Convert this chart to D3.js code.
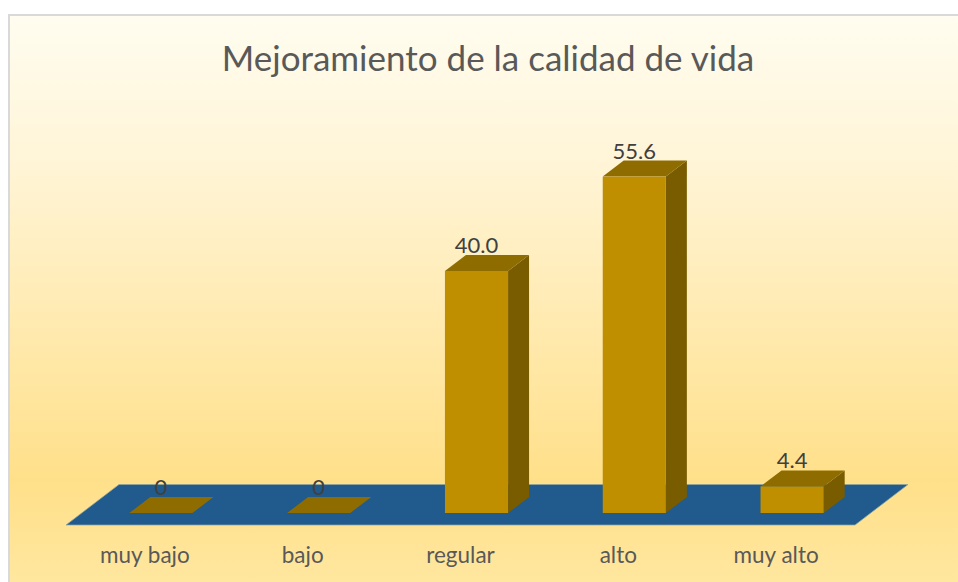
<!DOCTYPE html>
<html>
<head>
<meta charset="utf-8">
<script src="https://cdn.jsdelivr.net/npm/d3@7"></script>
<style>
html, body { margin: 0; padding: 0; background: #fff; overflow: hidden; }
svg { display: block; }
</style>
</head>
<body>
<div id="chart"></div>
<script>
var categories = ['muy bajo', 'bajo', 'regular', 'alto', 'muy alto'];
var values = [0, 0, 40.0, 55.6, 4.4];
var valueLabels = ['0', '0', '40.0', '55.6', '4.4'];
var chartTitle = 'Mejoramiento de la calidad de vida';

var width = 958;
var height = 582;

// floor of the 3d plot
var floorFront = 525;
var floorBack = 484.5;
var floorLeft = 66;
var floorRight = 855;
var floorSkew = 53;

// depth of a bar, and how far it sits behind the front of the floor
var barDepthX = 21;
var barDepthY = 16;
var barShiftX = 16;
var barBase = 513;

var x = d3.scaleBand()
    .domain(categories)
    .range([floorLeft, floorRight])
    .paddingInner(0.6)
    .paddingOuter(0.3);

var y = d3.scaleLinear()
    .domain([0, 40])
    .range([barBase, 271]);

var svg = d3.select('#chart').append('svg')
    .attr('width', width)
    .attr('height', height);

var grad = svg.append('defs').append('linearGradient')
    .attr('id', 'bg')
    .attr('gradientUnits', 'userSpaceOnUse')
    .attr('x1', 0).attr('y1', 15).attr('x2', 0).attr('y2', height);
grad.append('stop').attr('offset', '0%').attr('stop-color', '#fffdf0');
grad.append('stop').attr('offset', '25%').attr('stop-color', '#fff5d8');
grad.append('stop').attr('offset', '82%').attr('stop-color', '#ffe08a');
grad.append('stop').attr('offset', '100%').attr('stop-color', '#ffe79f');

// background and frame (the right and bottom sides run off the picture)
svg.append('rect')
    .attr('x', 9).attr('y', 15)
    .attr('width', width + 10).attr('height', height + 10)
    .attr('fill', 'url(#bg)')
    .attr('stroke', '#d9d9d9')
    .attr('stroke-width', 2);

svg.append('text')
    .attr('x', 488)
    .attr('y', 71)
    .attr('text-anchor', 'middle')
    .style('font-family', 'Lato, Carlito, sans-serif')
    .style('font-size', '35px')
    .attr('fill', '#595959')
    .text(chartTitle);

// floor
svg.append('path')
    .attr('d', d3.line()([
        [floorLeft, floorFront],
        [floorRight, floorFront],
        [floorRight + floorSkew, floorBack],
        [floorLeft + floorSkew, floorBack]
    ]) + 'Z')
    .attr('fill', '#215a8c')
    .attr('stroke', '#8fa6a0')
    .attr('stroke-width', 0.75);

var bars = svg.selectAll('.bar')
    .data(categories)
    .enter().append('g')
    .attr('class', 'bar');

function barLeft(i) {
    return x(categories[i]) + barShiftX;
}

// side face
bars.filter(function (d, i) { return values[i] > 0; })
    .append('path')
    .attr('d', function (d) {
        var i = categories.indexOf(d);
        var r = barLeft(i) + x.bandwidth();
        return d3.line()([
            [r, y(values[i])],
            [r + barDepthX, y(values[i]) - barDepthY],
            [r + barDepthX, y(0) - barDepthY],
            [r, y(0)]
        ]) + 'Z';
    })
    .attr('fill', '#7a5c00');

// top face
bars.append('path')
    .attr('d', function (d, i) {
        var l = barLeft(i);
        var r = l + x.bandwidth();
        var t = y(values[i]);
        return d3.line()([
            [l, t],
            [r, t],
            [r + barDepthX, t - barDepthY],
            [l + barDepthX, t - barDepthY]
        ]) + 'Z';
    })
    .attr('fill', '#8f6c00');

// front face
bars.append('rect')
    .attr('x', function (d, i) { return barLeft(i); })
    .attr('y', function (d, i) { return y(values[i]); })
    .attr('width', x.bandwidth())
    .attr('height', function (d, i) { return y(0) - y(values[i]); })
    .attr('fill', '#bf8f00');

// value labels
bars.append('text')
    .attr('x', function (d, i) { return barLeft(i) + x.bandwidth() / 2; })
    .attr('y', function (d, i) { return y(values[i]) - 18; })
    .attr('text-anchor', 'middle')
    .style('font-family', 'Lato, Carlito, sans-serif')
    .style('font-size', '22px')
    .attr('fill', '#404040')
    .text(function (d, i) { return valueLabels[i]; });

// category labels
svg.selectAll('.cat')
    .data(categories)
    .enter().append('text')
    .attr('class', 'cat')
    .attr('x', function (d) { return x(d) + x.bandwidth() / 2; })
    .attr('y', 563)
    .attr('text-anchor', 'middle')
    .style('font-family', 'Lato, Carlito, sans-serif')
    .style('font-size', '22.5px')
    .attr('fill', '#595959')
    .text(function (d) { return d; });
</script>
</body>
</html>
